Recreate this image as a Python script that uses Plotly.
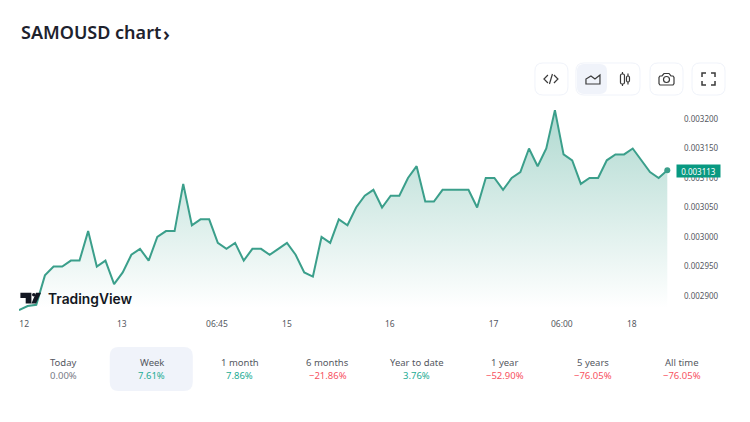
import plotly.graph_objects as go

# prices, one per 8.64 px
prices = [
    0.002876, 0.002883, 0.002885, 0.002935, 0.00295, 0.00295, 0.00296, 0.00296, 0.00301, 0.00295,
    0.00296, 0.00292, 0.00294, 0.00297, 0.00298, 0.00296, 0.0030, 0.00301, 0.00301, 0.00309,
    0.00302, 0.00303, 0.00303, 0.00299, 0.00298, 0.00299, 0.00296, 0.00298, 0.00298, 0.00297,
    0.00298, 0.00299, 0.00297, 0.00294, 0.002933, 0.0030, 0.00299, 0.00303, 0.00302, 0.00305,
    0.00307, 0.00308, 0.00305, 0.00307, 0.00307, 0.0031, 0.00312, 0.00306, 0.00306, 0.00308,
    0.00308, 0.00308, 0.00308, 0.00305, 0.0031, 0.0031, 0.00308, 0.0031, 0.00311, 0.00315,
    0.00312, 0.00315, 0.003215, 0.00314, 0.00313, 0.00309, 0.0031, 0.0031, 0.00313, 0.00314,
    0.00314, 0.00315, 0.00313, 0.00311, 0.0031, 0.003113,
]
x_index = list(range(len(prices)))

x_tick_pos = [0.6, 11.9, 22.9, 31.0, 42.9, 54.9, 62.8, 70.9]
x_tick_text = ["12", "13", "06:45", "15", "16", "17", "06:00", "18"]
y_ticks = [0.0029, 0.00295, 0.003, 0.00305, 0.0031, 0.00315, 0.0032]
y_tick_text = ["0.002900", "0.002950", "0.003000", "0.003050", "0.003100", "0.003150", "0.003200"]

periods = ["Today", "Week", "1 month", "6 months", "Year to date", "1 year", "5 years", "All time"]
changes = ["0.00%", "7.61%", "7.86%", "−21.86%", "3.76%", "−52.90%", "−76.05%", "−76.05%"]
change_colors = ["#787b86", "#22ab94", "#22ab94", "#f7525f", "#22ab94", "#f7525f", "#f7525f", "#f7525f"]
period_centers = [64, 152, 240, 328, 417, 505, 593, 682]

W, H = 750, 422
L, R, T, B = 19.3, 678, 100, 312
FONT = "Noto Sans"
LINE = "#3b9f8b"
TEXT = "#55585f"


def px(x):
    return (x - L) / (R - L)


def py(y):
    return 1 - (y - T) / (B - T)


def pth(points, close=False):
    s = "M " + " L ".join(f"{px(x):.5f},{py(y):.5f}" for x, y in points)
    return s + (" Z" if close else "")


def rrect(x0, y0, x1, y1, r):
    # rounded box in page pixels
    return (
        f"M {px(x0 + r):.5f},{py(y0):.5f} L {px(x1 - r):.5f},{py(y0):.5f} "
        f"Q {px(x1):.5f},{py(y0):.5f} {px(x1):.5f},{py(y0 + r):.5f} "
        f"L {px(x1):.5f},{py(y1 - r):.5f} Q {px(x1):.5f},{py(y1):.5f} {px(x1 - r):.5f},{py(y1):.5f} "
        f"L {px(x0 + r):.5f},{py(y1):.5f} Q {px(x0):.5f},{py(y1):.5f} {px(x0):.5f},{py(y1 - r):.5f} "
        f"L {px(x0):.5f},{py(y0 + r):.5f} Q {px(x0):.5f},{py(y0):.5f} {px(x0 + r):.5f},{py(y0):.5f} Z"
    )


def shape(path, fill="rgba(0,0,0,0)", line="#3a3a3a", w=1.2):
    return dict(type="path", xref="paper", yref="paper", path=path, fillcolor=fill,
                line=dict(color=line, width=w), layer="above")


def text(x, y, s, size, color, anchor="center", weight=None, **kw):
    font = dict(family=kw.pop("family", FONT), size=size, color=color)
    if weight:
        font["weight"] = weight
    return dict(xref="paper", yref="paper", x=px(x), y=py(y), text=s, showarrow=False, xanchor=anchor,
                yanchor="middle", font=font, **kw)


fig = go.Figure()
fig.add_trace(go.Scatter(
    x=x_index, y=prices, mode="lines", line=dict(color=LINE, width=2), fill="tozeroy",
    fillgradient=dict(type="vertical", start=max(prices), stop=0.00288,
                      colorscale=[[0, "rgba(34,150,125,0.36)"], [1, "rgba(34,150,125,0)"]]),
    hoverinfo="skip",
))
fig.add_trace(go.Scatter(
    x=x_index[-1:], y=prices[-1:], mode="markers", marker=dict(color=LINE, size=6), hoverinfo="skip",
))

shapes = [
    # period highlight
    shape(rrect(110, 347, 193, 391, 9), fill="#f0f3fa", line="#f0f3fa", w=0),
    # toolbar buttons
    shape(rrect(535, 63, 568, 95, 8), fill="white", line="#f0f3fa", w=1),
    shape(rrect(576, 63, 640, 95, 8), fill="white", line="#f0f3fa", w=1),
    shape(rrect(577, 64, 607, 94, 7), fill="#f0f3fa", line="#f0f3fa", w=0),
    shape(rrect(650, 63, 683, 95, 8), fill="white", line="#f0f3fa", w=1),
    shape(rrect(692, 63, 725, 95, 8), fill="white", line="#f0f3fa", w=1),
    # code icon
    shape(pth([(548, 75), (544, 79), (548, 83)])),
    shape(pth([(554, 75), (558, 79), (554, 83)])),
    shape(pth([(552.5, 74), (549.5, 84)])),
    # area icon
    shape(pth([(586, 84), (586, 79), (591, 76), (595, 79), (600, 75), (600, 84)], close=True)),
    # candle icon
    shape(rrect(620.5, 74, 624.5, 84, 1.5)),
    shape(pth([(622.5, 72), (622.5, 74)])),
    shape(pth([(622.5, 84), (622.5, 86)])),
    shape(rrect(626.5, 76, 629.5, 82, 1.5)),
    shape(pth([(628, 73.5), (628, 76)])),
    shape(pth([(628, 82), (628, 84.5)])),
    # camera icon
    shape(pth([(660, 76), (662, 76), (664, 73.5), (669, 73.5), (671, 76), (673, 76), (674, 77.5),
               (674, 83.5), (673, 85), (660, 85), (659, 83.5), (659, 77.5)], close=True)),
    dict(type="circle", xref="paper", yref="paper", x0=px(663.5), x1=px(669.5), y0=py(82.5), y1=py(76.5),
         line=dict(color="#3a3a3a", width=1.2), layer="above"),
    # fullscreen icon
    shape(pth([(702, 77), (702, 73), (706, 73)]), w=1.5),
    shape(pth([(711, 73), (715, 73), (715, 77)]), w=1.5),
    shape(pth([(715, 81), (715, 85), (711, 85)]), w=1.5),
    shape(pth([(706, 85), (702, 85), (702, 81)]), w=1.5),
    # TradingView mark
    shape(pth([(20.7, 292.7), (31.7, 292.7), (31.7, 303.5), (26, 303.5), (26, 298), (20.7, 298)], close=True),
          fill="#131722", line="#131722", w=0),
    dict(type="circle", xref="paper", yref="paper", x0=px(32.3), x1=px(35.9), y0=py(296.5), y1=py(292.9),
         fillcolor="#131722", line=dict(width=0), layer="above"),
    shape(pth([(36.3, 292.7), (41.3, 292.7), (36.3, 303.5), (31.7, 303.5)], close=True),
          fill="#131722", line="#131722", w=0),
]

annotations = [
    text(19, 32, "SAMOUSD chart", 18, "#1e222d", anchor="left", weight=600),
    text(161, 33, "›", 20, "#1e222d", anchor="left", weight=600),
    text(46.5, 298.5, "TradingView", 13.8, "#131722", anchor="left", family="Inter", weight=600),
    text(698.5, 171, "0.003113", 8, "white", bgcolor="#089981", width=41, height=10, borderpad=1),
]
for name, change, color, cx in zip(periods, changes, change_colors, period_centers):
    annotations.append(text(cx, 362.5, name, 9.5, TEXT))
    annotations.append(text(cx, 375, change, 9.5, color))

fig.update_layout(
    width=W, height=H, autosize=False, showlegend=False,
    margin=dict(l=L, r=W - R, t=T, b=H - B, pad=0),
    paper_bgcolor="white", plot_bgcolor="white",
    xaxis=dict(range=[0, (R - L) / 8.64], tickmode="array", tickvals=x_tick_pos, ticktext=x_tick_text,
               showgrid=False, zeroline=False, showline=False, ticks="", ticklabelstandoff=5,
               tickfont=dict(family=FONT, size=8.5, color=TEXT)),
    yaxis=dict(range=[0.0028729, 0.0032322], side="right", tickmode="array", tickvals=y_ticks,
               ticktext=y_tick_text, showgrid=False, zeroline=False, showline=False, ticks="",
               ticklabelstandoff=5, tickfont=dict(family=FONT, size=8, color=TEXT)),
    shapes=shapes, annotations=annotations,
)

# the browser's default body margin would push everything 8 px in
fig.write_html("out.html", config={"displayModeBar": False}, post_script="document.body.style.margin='0';")
